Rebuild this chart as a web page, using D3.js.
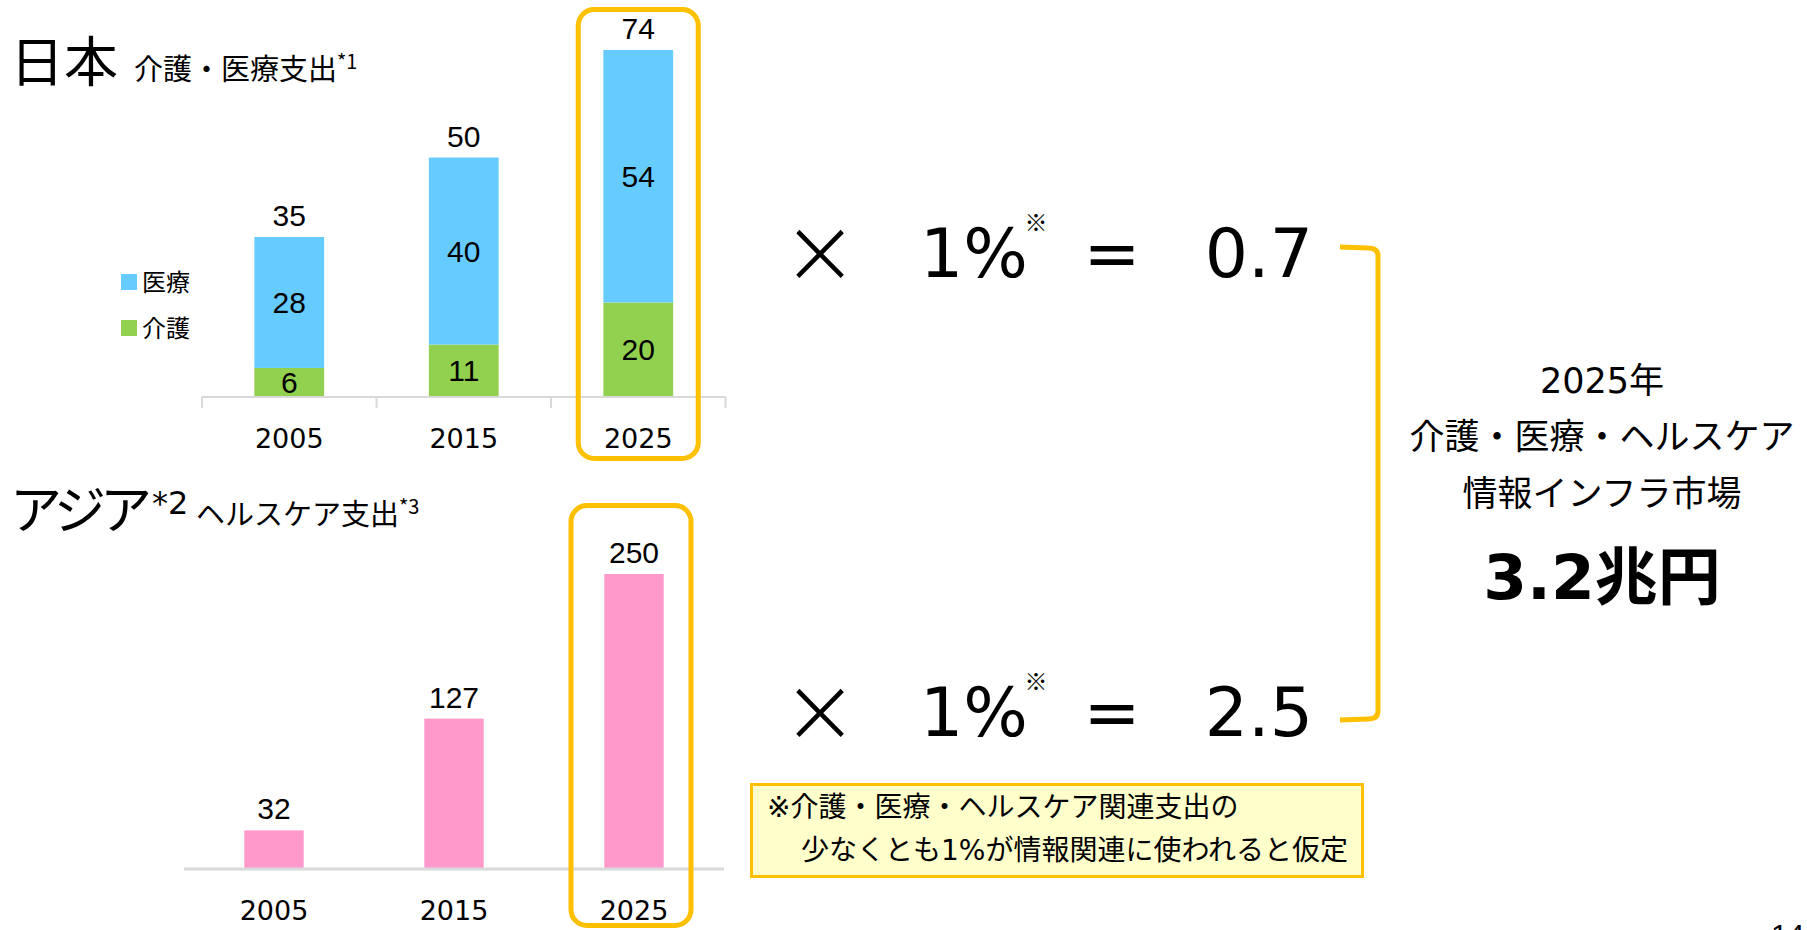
<!DOCTYPE html>
<html>
<head>
<meta charset="utf-8">
<script src="https://cdn.jsdelivr.net/npm/d3@7"></script>
<style>
  body { margin: 0; background: #fff; }
  text { fill: #000; }
</style>
</head>
<body>
<div id="chart"></div>
<script>
// data
var years = ["2005", "2015", "2025"];
var japanCare = [6, 11, 20];        // 介護
var japanMedical = [28, 40, 54];    // 医療
var japanTotal = [35, 50, 74];
var asiaHealth = [32, 127, 250];    // ヘルスケア支出
var shareLabels = ["1%", "1%"];
var marketValues = ["0.7", "2.5"];
var marketTotal = "3.2兆円";

var jpFont = "'Noto Sans CJK JP', sans-serif";
var numFont = "'Liberation Sans', Arial, sans-serif";
var vFont = "'DejaVu Sans', 'Noto Sans CJK JP', sans-serif";

var svg = d3.select("#chart").append("svg")
    .attr("width", 1807)
    .attr("height", 930);

//--- Japan stacked bars
var xJ = d3.scaleBand().domain(years).range([202, 725.5]);
var yJ = d3.scaleLinear().domain([0, 74]).range([396, 50]);
var bwJ = xJ.bandwidth() * 0.4;

svg.append("text").attr("x", 10).attr("y", 82)
    .style("font-family", jpFont).style("font-size", "54px").text("日本");
var sub1 = svg.append("text").attr("x", 134).attr("y", 80)
    .style("font-family", jpFont).style("font-size", "29px");
sub1.append("tspan").text("介護・医療支出");
sub1.append("tspan").attr("dy", -11).style("font-size", "20px").text("*1");

var jp = svg.append("g");
jp.selectAll("rect.care").data(years).join("rect")
    .attr("x", function(d) { return xJ(d) + xJ.bandwidth() / 2 - bwJ / 2; })
    .attr("width", bwJ)
    .attr("y", function(d, i) { return yJ(japanCare[i]); })
    .attr("height", function(d, i) { return yJ(0) - yJ(japanCare[i]); })
    .attr("fill", "#92D050");
jp.selectAll("rect.med").data(years).join("rect")
    .attr("x", function(d) { return xJ(d) + xJ.bandwidth() / 2 - bwJ / 2; })
    .attr("width", bwJ)
    .attr("y", function(d, i) { return yJ(japanCare[i] + japanMedical[i]); })
    .attr("height", function(d, i) { return yJ(japanCare[i]) - yJ(japanCare[i] + japanMedical[i]); })
    .attr("fill", "#66CCFF");

function midX(d) { return xJ(d) + xJ.bandwidth() / 2; }
jp.selectAll("text.care").data(years).join("text")
    .attr("x", midX)
    .attr("y", function(d, i) { return (yJ(0) + yJ(japanCare[i])) / 2 + 11; })
    .attr("text-anchor", "middle").style("font-family", numFont).style("font-size", "30px")
    .text(function(d, i) { return japanCare[i]; });
jp.selectAll("text.med").data(years).join("text")
    .attr("x", midX)
    .attr("y", function(d, i) { return (yJ(japanCare[i]) + yJ(japanCare[i] + japanMedical[i])) / 2 + 11; })
    .attr("text-anchor", "middle").style("font-family", numFont).style("font-size", "30px")
    .text(function(d, i) { return japanMedical[i]; });
jp.selectAll("text.tot").data(years).join("text")
    .attr("x", midX)
    .attr("y", function(d, i) { return yJ(japanCare[i] + japanMedical[i]) - 11; })
    .attr("text-anchor", "middle").style("font-family", numFont).style("font-size", "30px")
    .text(function(d, i) { return japanTotal[i]; });

// axis: labels from d3.axisBottom, line and separators drawn by hand
var axJ = svg.append("g").attr("transform", "translate(0,396)")
    .call(d3.axisBottom(xJ).tickSize(0));
axJ.select(".domain").remove();
axJ.selectAll("text").attr("y", 52).attr("dy", null)
    .style("font-family", vFont).style("font-size", "27px").style("fill", "#000");
svg.append("line").attr("x1", xJ.range()[0]).attr("x2", xJ.range()[1])
    .attr("y1", 397).attr("y2", 397).attr("stroke", "#D9D9D9").attr("stroke-width", 2);
svg.selectAll("line.sep").data(years.map(function(d) { return xJ(d); }).concat([xJ.range()[1]]))
    .join("line").attr("class", "sep")
    .attr("x1", function(d) { return d; }).attr("x2", function(d) { return d; })
    .attr("y1", 397).attr("y2", 408).attr("stroke", "#D9D9D9").attr("stroke-width", 2);

// legend
var legend = [["医療", "#66CCFF", 282], ["介護", "#92D050", 328]];
legend.forEach(function(l) {
    svg.append("rect").attr("x", 121).attr("y", l[2] - 8).attr("width", 16).attr("height", 16).attr("fill", l[1]);
    svg.append("text").attr("x", 142).attr("y", l[2] + 9)
        .style("font-family", jpFont).style("font-size", "24px").text(l[0]);
});

//--- Asia bars
var xA = d3.scaleBand().domain(years).range([184, 724]);
var yA = d3.scaleLinear().domain([0, 250]).range([868, 574]);
var bwA = xA.bandwidth() * 0.33;

var t2 = svg.append("text").attr("x", 10).attr("y", 529)
    .style("font-family", jpFont).style("font-size", "52px");
t2.append("tspan").style("letter-spacing", "-6px").text("アジア");
t2.append("tspan").attr("dx", 6).attr("dy", -15).style("font-size", "32px").style("font-family", vFont).text("*2");
var sub2 = svg.append("text").attr("x", 196).attr("y", 525)
    .style("font-family", jpFont).style("font-size", "29px");
sub2.append("tspan").text("ヘルスケア支出");
sub2.append("tspan").attr("dy", -11).style("font-size", "20px").text("*3");

svg.selectAll("rect.asia").data(years).join("rect").attr("class", "asia")
    .attr("x", function(d) { return xA(d) + xA.bandwidth() / 2 - bwA / 2; })
    .attr("width", bwA)
    .attr("y", function(d, i) { return yA(asiaHealth[i]); })
    .attr("height", function(d, i) { return yA(0) - yA(asiaHealth[i]); })
    .attr("fill", "#FF99CC");
svg.selectAll("text.asia").data(years).join("text").attr("class", "asia")
    .attr("x", function(d) { return xA(d) + xA.bandwidth() / 2; })
    .attr("y", function(d, i) { return yA(asiaHealth[i]) - 11; })
    .attr("text-anchor", "middle").style("font-family", numFont).style("font-size", "30px")
    .text(function(d, i) { return asiaHealth[i]; });

var axA = svg.append("g").attr("transform", "translate(0,868)")
    .call(d3.axisBottom(xA).tickSize(0));
axA.select(".domain").remove();
axA.selectAll("text").attr("y", 52).attr("dy", null)
    .style("font-family", vFont).style("font-size", "27px").style("fill", "#000");
svg.append("line").attr("x1", xA.range()[0]).attr("x2", xA.range()[1])
    .attr("y1", 869).attr("y2", 869).attr("stroke", "#D9D9D9").attr("stroke-width", 3);

// orange highlight around 2025
var hx = midX("2025");
svg.append("rect").attr("x", hx - 60).attr("y", 9.5).attr("width", 120).attr("height", 449)
    .attr("rx", 16).attr("fill", "none").attr("stroke", "#FFC000").attr("stroke-width", 5);
var ha = xA("2025") + xA.bandwidth() / 2 - 3;
svg.append("rect").attr("x", ha - 60).attr("y", 505.5).attr("width", 120).attr("height", 420)
    .attr("rx", 16).attr("fill", "none").attr("stroke", "#FFC000").attr("stroke-width", 5);

//--- equations
var rowY = [277, 736];
rowY.forEach(function(y, i) {
    svg.append("text").attr("x", 820).attr("y", y + 6).attr("text-anchor", "middle")
        .style("font-family", vFont).style("font-size", "92px").style("font-weight", 200).text("×");
    svg.append("text").attr("x", 920).attr("y", y)
        .style("font-family", vFont).style("font-size", "68px").text(shareLabels[i]);
    svg.append("text").attr("x", 1036).attr("y", y - 46).attr("text-anchor", "middle")
        .style("font-family", jpFont).style("font-size", "23px").style("font-weight", "bold").text("※");
    svg.append("text").attr("x", 1112).attr("y", y).attr("text-anchor", "middle")
        .style("font-family", vFont).style("font-size", "68px").text("=");
    svg.append("text").attr("x", 1313).attr("y", y).attr("text-anchor", "end")
        .style("font-family", vFont).style("font-size", "68px").text(marketValues[i]);
});

// bracket
var br = d3.path();
br.moveTo(1340, 247);
br.lineTo(1368, 248);
br.quadraticCurveTo(1378, 248, 1378, 256);
br.lineTo(1378, 711);
br.quadraticCurveTo(1378, 719, 1368, 719);
br.lineTo(1340, 720);
svg.append("path").attr("d", br.toString()).attr("fill", "none")
    .attr("stroke", "#FFC000").attr("stroke-width", 5);

// result block
var res = ["2025年", "介護・医療・ヘルスケア", "情報インフラ市場"];
var resY = [393, 449, 506];
res.forEach(function(t, i) {
    svg.append("text").attr("x", 1602).attr("y", resY[i]).attr("text-anchor", "middle")
        .style("font-family", vFont).style("font-size", "35px").text(t);
});
svg.append("text").attr("x", 1602).attr("y", 599).attr("text-anchor", "middle")
    .style("font-family", vFont).style("font-size", "63px").style("font-weight", "bold").text(marketTotal);

// footnote box
svg.append("rect").attr("x", 751.5).attr("y", 784.5).attr("width", 611).attr("height", 92)
    .attr("fill", "#FFFFCC").attr("stroke", "#FFC000").attr("stroke-width", 3);
svg.append("text").attr("x", 767).attr("y", 817)
    .style("font-family", vFont).style("font-size", "28px").text("※介護・医療・ヘルスケア関連支出の");
svg.append("text").attr("x", 801).attr("y", 860)
    .style("font-family", vFont).style("font-size", "28px").text("少なくとも1%が情報関連に使われると仮定");

// page number (cut off at bottom)
svg.append("text").attr("x", 1771).attr("y", 945)
    .style("font-family", numFont).style("font-size", "30px").text("14");
</script>
</body>
</html>
